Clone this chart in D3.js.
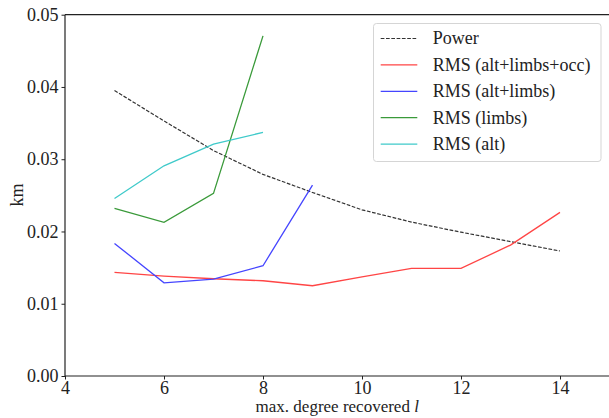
<!DOCTYPE html>
<html><head><meta charset="utf-8">
<script src="https://cdn.jsdelivr.net/npm/d3@7"></script>
<style>body{margin:0;background:#fff}svg{display:block}text{font-family:"Times New Roman","Liberation Serif",serif !important;fill:#222}</style>
</head><body><svg id="c" width="609" height="418"></svg>
<script>
const degrees = [5,6,7,8,9,10,11,12,13,14];
const power = [0.0395,0.0353,0.0312,0.0279,0.0254,0.0230,0.0213,0.0199,0.0186,0.0173];
const rmsAll = [0.01434,0.01383,0.01346,0.01318,0.01249,0.01373,0.01489,0.01489,0.01812,0.02264];
const rmsAltLimbsX = [5,6,7,8,9];
const rmsAltLimbs = [0.01835,0.0129,0.01341,0.01526,0.02642];
const rmsLimbsX = [5,6,7,8];
const rmsLimbs = [0.0232,0.02126,0.02527,0.04707];
const rmsAltX = [5,6,7,8];
const rmsAlt = [0.02457,0.02909,0.03209,0.03371];
const xTicks = [4,6,8,10,12,14];
const yTicks = [0,0.01,0.02,0.03,0.04,0.05];
const seriesNames = ["Power","RMS (alt+limbs+occ)","RMS (alt+limbs)","RMS (limbs)","RMS (alt)"];

const svg = d3.select("#c");
const L=65, R=609.5, T=14.7, B=376;
const x = d3.scaleLinear().domain([4,15]).range([L,R]);
const y = d3.scaleLinear().domain([0,0.05]).range([B,T]);

const series = [
  {name:seriesNames[0], xs:degrees, ys:power, color:"#333", dash:"3.7,1.6", w:1.2},
  {name:seriesNames[1], xs:degrees, ys:rmsAll, color:"#ff4545", dash:null, w:1.3},
  {name:seriesNames[2], xs:rmsAltLimbsX, ys:rmsAltLimbs, color:"#4545ff", dash:null, w:1.3},
  {name:seriesNames[3], xs:rmsLimbsX, ys:rmsLimbs, color:"#3a9a3a", dash:null, w:1.3},
  {name:seriesNames[4], xs:rmsAltX, ys:rmsAlt, color:"#3fcaca", dash:null, w:1.3}
];
const line = d3.line().x(d=>x(d[0])).y(d=>y(d[1]));
series.forEach(s=>{
  svg.append("path").attr("d", line(s.xs.map((v,i)=>[v,s.ys[i]])))
    .attr("fill","none").attr("stroke",s.color).attr("stroke-width",s.w)
    .attr("stroke-dasharray",s.dash);
});

// axes
const xa = svg.append("g").attr("transform",`translate(0,${B})`)
  .call(d3.axisBottom(x).tickValues(xTicks).tickSize(3.5).tickPadding(3).tickFormat(d3.format("d")));
const ya = svg.append("g").attr("transform",`translate(${L},0)`)
  .call(d3.axisLeft(y).tickValues(yTicks).tickSize(3.5).tickPadding(3).tickFormat(d3.format(".2f")));
[xa,ya].forEach(g=>{
  g.attr("font-family",null).attr("font-size",null);
  g.select(".domain").remove();
  g.selectAll("line").attr("stroke","#222");
  g.selectAll("text").style("font-size","18px").attr("fill","#222");
});
xa.selectAll("text").attr("dy","0.62em");
// spines (right one lies past the picture's edge)
svg.append("line").attr("x1",L).attr("x2",L).attr("y1",T).attr("y2",B).attr("stroke","#222").attr("stroke-width",1.2);
svg.append("line").attr("x1",L).attr("x2",R).attr("y1",B).attr("y2",B).attr("stroke","#222").attr("stroke-width",1.2);
svg.append("line").attr("x1",L).attr("x2",R).attr("y1",T).attr("y2",T).attr("stroke","#222").attr("stroke-width",1.2);

// labels
const xl = svg.append("text").attr("x",(L+R)/2).attr("y",412).attr("text-anchor","middle").style("font-size","17px");
xl.append("tspan").text("max. degree recovered ");
xl.append("tspan").style("font-style","italic").text("l");
svg.append("text").attr("transform","translate(23,195) rotate(-90)").attr("text-anchor","middle").style("font-size","18px").text("km");

// legend
const lg = svg.append("g");
lg.append("rect").attr("x",373.5).attr("y",23.5).attr("width",227.5).attr("height",138)
  .attr("rx",3).attr("fill","#fff").attr("fill-opacity",0.85).attr("stroke","#d5d5d5");
series.forEach((s,i)=>{
  const yy = 38.5 + i*26.4;
  lg.append("line").attr("x1",380.7).attr("x2",417.3).attr("y1",yy).attr("y2",yy)
    .attr("stroke",s.color).attr("stroke-width",s.w).attr("stroke-dasharray",s.dash);
  lg.append("text").attr("x",432.7).attr("y",yy).attr("dy","0.33em").style("font-size","18px").text(s.name);
});
</script></body></html>
